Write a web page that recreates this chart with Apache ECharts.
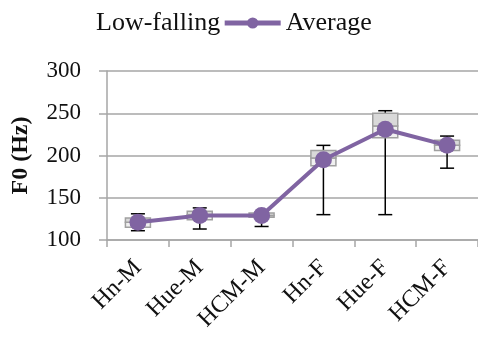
<!DOCTYPE html>
<html>
<head>
<meta charset="utf-8">
<script src="https://cdn.jsdelivr.net/npm/echarts@6/dist/echarts.min.js"></script>
<style>html,body{margin:0;padding:0;background:#fff}#c{width:478px;height:339px}</style>
</head>
<body>
<div id="c"></div>
<script>
const categories = ['Hn-M', 'Hue-M', 'HCM-M', 'Hn-F', 'Hue-F', 'HCM-F'];
const averages = [121, 129, 129, 195, 231, 212];
const minVals = [111, 113, 116, 130, 130, 185];
const q1Vals = [115, 124, 127, 188, 221, 206];
const medVals = [121, 130, 129, 197, 235, 212];
const q3Vals = [126, 134, 132, 206, 250, 218];
const maxVals = [131, 138, 133, 212, 253, 223];
const yTicks = [100, 150, 200, 250, 300];

const boxData = categories.map((c, i) => [i, minVals[i], q1Vals[i], medVals[i], q3Vals[i], maxVals[i]]);

const chart = echarts.init(document.getElementById('c'));
const serif = '"Liberation Serif", "DejaVu Serif", serif';
chart.setOption({
  animation: false,
  legend: {
    left: 30, top: 5,
    itemWidth: 56, itemHeight: 14, itemGap: 2,
    textStyle: { fontFamily: serif, fontSize: 26, color: '#111' },
    data: [
      { name: 'Low-falling', itemStyle: { opacity: 0 }, lineStyle: { opacity: 0 } },
      { name: 'Average', lineStyle: { width: 5, color: '#8064a2' } }
    ]
  },
  grid: { left: 107, right: -6, top: 71, bottom: 99 },
  xAxis: {
    type: 'category', data: categories, boundaryGap: true,
    axisLine: { lineStyle: { color: '#a6a6a6', width: 1.5 } },
    axisTick: { show: true, length: 7, lineStyle: { color: '#a6a6a6', width: 1.5 } },
    axisLabel: { rotate: 45, fontFamily: serif, fontSize: 24, color: '#111', margin: 24 }
  },
  yAxis: {
    type: 'value', min: yTicks[0], max: yTicks[yTicks.length - 1], interval: 50,
    name: 'F0 (Hz)', nameLocation: 'middle', nameGap: 74, nameRotate: 90,
    nameTextStyle: { fontFamily: serif, fontSize: 24, fontWeight: 'bold', color: '#111' },
    axisLine: { show: true, lineStyle: { color: '#a6a6a6', width: 1.5 } },
    axisTick: { show: true, length: 8, lineStyle: { color: '#a6a6a6', width: 1.5 } },
    axisLabel: { fontFamily: serif, fontSize: 23, color: '#111', margin: 26 },
    splitLine: { lineStyle: { color: '#a6a6a6', width: 1.5 } }
  },
  series: [
    {
      name: 'Low-falling', type: 'custom', data: boxData, z: 2,
      encode: { x: 0, y: [1, 2, 3, 4, 5] },
      renderItem: function (params, api) {
        const i = api.value(0);
        const pMin = api.coord([i, api.value(1)]);
        const pQ1 = api.coord([i, api.value(2)]);
        const pMed = api.coord([i, api.value(3)]);
        const pQ3 = api.coord([i, api.value(4)]);
        const pMax = api.coord([i, api.value(5)]);
        const x = pMin[0];
        const bw = 25, cw = 14;
        const ws = { stroke: '#000', lineWidth: 1.5 };
        const bs = { stroke: '#a0a0a0', lineWidth: 1.5 };
        return {
          type: 'group',
          children: [
            { type: 'line', shape: { x1: x, y1: pMin[1], x2: x, y2: pMax[1] }, style: ws },
            { type: 'line', shape: { x1: x - cw / 2, y1: pMin[1], x2: x + cw / 2, y2: pMin[1] }, style: ws },
            { type: 'line', shape: { x1: x - cw / 2, y1: pMax[1], x2: x + cw / 2, y2: pMax[1] }, style: ws },
            { type: 'rect', shape: { x: x - bw / 2, y: pMed[1], width: bw, height: pQ1[1] - pMed[1] }, style: Object.assign({ fill: '#f0f0f0' }, bs) },
            { type: 'rect', shape: { x: x - bw / 2, y: pQ3[1], width: bw, height: pMed[1] - pQ3[1] }, style: Object.assign({ fill: '#d9d9d9' }, bs) }
          ]
        };
      }
    },
    {
      name: 'Average', type: 'line', data: averages, z: 5,
      symbol: 'circle', symbolSize: 17,
      itemStyle: { color: '#8064a2' },
      lineStyle: { color: '#8064a2', width: 4 }
    }
  ]
});
</script>
</body>
</html>
